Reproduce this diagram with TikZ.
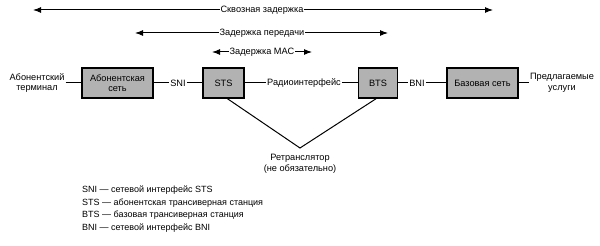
\documentclass[tikz,border=0pt]{standalone}
\usepackage{fontspec}
\setmainfont{Liberation Sans}
\usetikzlibrary{arrows.meta}
\begin{document}
\begin{tikzpicture}[x=1pt,y=-1pt,
  every node/.style={font=\fontsize{9.2}{10.5}\selectfont, inner sep=1pt},
  blk/.style={draw=black, line width=1.5pt, fill=gray!60, minimum height=30pt, align=center, inner sep=0pt},
  lbl/.style={align=center},
  con/.style={line width=1pt},
  span/.style={line width=1pt, {Latex[length=8pt,width=6pt]}-{Latex[length=8pt,width=6pt]}},
  leg/.style={anchor=west, font=\fontsize{9}{10}\selectfont}]
\useasboundingbox (0,0) rectangle (600,246);
% delay arrows
\coordinate (a1l) at (33,10); \coordinate (a1r) at (493,10);
\coordinate (a2l) at (135,33); \coordinate (a2r) at (388,33);
\coordinate (a3l) at (212,52); \coordinate (a3r) at (312,52);
\draw[span] (a1l) -- (a1r);
\node[fill=white] (t1) at (262,10) {Сквозная задержка};
\draw[span] (a2l) -- (a2r);
\node[fill=white] (t2) at (262,33) {Задержка передачи};
\draw[span] (a3l) -- (a3r);
\node[fill=white] (t3) at (262,52) {Задержка MAC};
% chain
\node[lbl] (term) at (37,83) {Абонентский\\терминал};
\node[blk, minimum width=71pt] (asub) at (117.5,83) {Абонентская\\сеть};
\node (sni) at (178,83) {SNI};
\node[blk, minimum width=41pt] (sts) at (223.5,83) {STS};
\node (radio) at (304,83) {Радиоинтерфейс};
\node[blk, minimum width=39pt] (bts) at (378,83) {BTS};
\node (bni) at (417,83) {BNI};
\node[blk, minimum width=71pt] (base) at (482.5,83) {Базовая сеть};
\node[lbl] (serv) at (562,83) {Предлагаемые\\услуги};
\draw[con] (term.east) -- (asub.west);
\draw[con] (asub.east) -- (sni.west);
\draw[con] (sni.east) -- (sts.west);
\draw[con] (sts.east) -- (radio.west);
\draw[con] (radio.east) -- (bts.west);
\draw[con] (bts.east) -- (bni.west);
\draw[con] (bni.east) -- (base.west);
\draw[con] (base.east) -- (serv.west);
% repeater
\coordinate (v) at (300,148);
\node[lbl] (rep) at (300,164) {Ретранслятор\\(не обязательно)};
\draw[con] ([xshift=4pt]sts.south) -- (v) -- ([xshift=-2pt]bts.south);
% legend
\node[leg] (l1) at (81,190) {SNI — сетевой интерфейс STS};
\node[leg] (l2) at (81,203) {STS — абонентская трансиверная станция};
\node[leg] (l3) at (81,215) {BTS — базовая трансиверная станция};
\node[leg] (l4) at (81,228) {BNI — сетевой интерфейс BNI};
\end{tikzpicture}
\end{document}
